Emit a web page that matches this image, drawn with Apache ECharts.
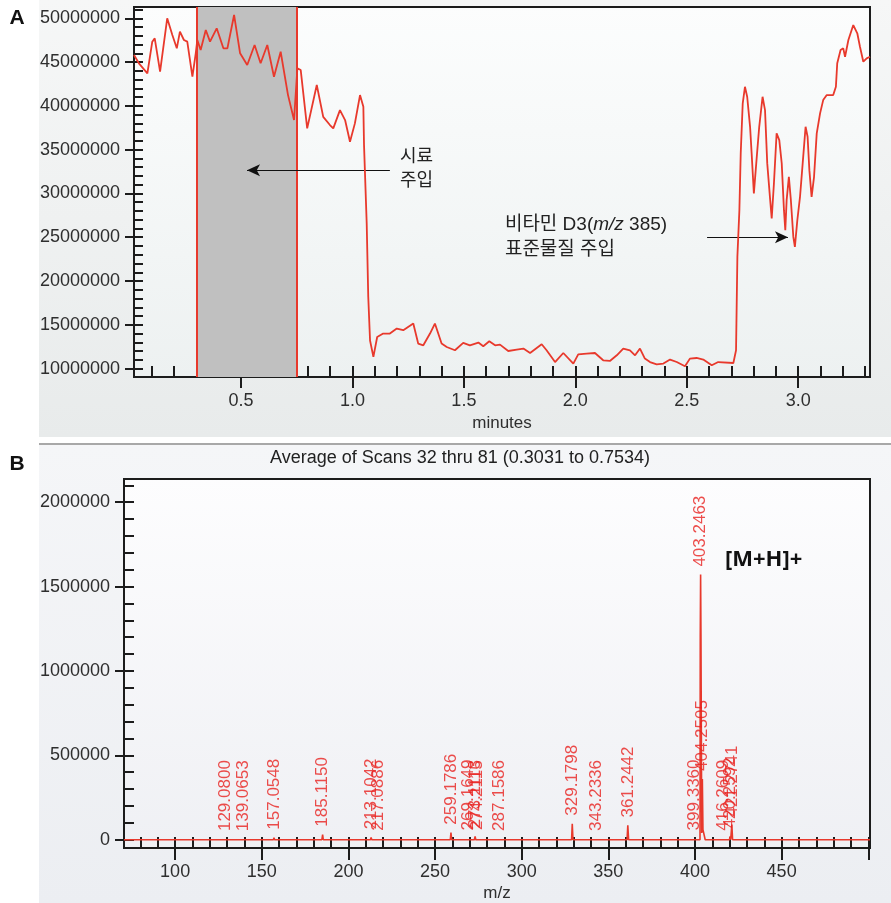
<!DOCTYPE html>
<html><head><meta charset="utf-8">
<script src="https://cdn.jsdelivr.net/npm/echarts@6/dist/echarts.min.js"></script>
<style>html,body{margin:0;padding:0;background:#fff}#c{width:891px;height:903px}</style>
</head><body><div id="c"></div>
<script>
// ===== Panel A: chromatogram (minutes vs intensity) =====
const ticTime = [0.020,0.042,0.080,0.102,0.113,0.137,0.169,0.192,0.212,0.226,
0.244,0.259,0.282,0.297,0.304,0.319,0.342,0.361,0.391,0.421,
0.439,0.469,0.496,0.528,0.561,0.588,0.618,0.648,0.678,0.711,
0.738,0.753,0.768,0.797,0.840,0.869,0.899,0.914,0.944,0.967,
0.989,1.011,1.034,1.049,1.052,1.064,1.071,1.079,1.094,1.111,
1.138,1.168,1.199,1.228,1.273,1.295,1.318,1.348,1.370,1.400,
1.423,1.460,1.497,1.527,1.565,1.587,1.614,1.640,1.662,1.699,
1.737,1.767,1.797,1.849,1.871,1.909,1.946,1.991,2.013,2.051,
2.088,2.125,2.155,2.186,2.215,2.245,2.268,2.290,2.312,2.335,
2.365,2.395,2.425,2.455,2.492,2.514,2.544,2.574,2.612,2.641,
2.709,2.721,2.727,2.736,2.742,2.751,2.761,2.771,2.784,2.791,
2.801,2.814,2.825,2.840,2.851,2.861,2.873,2.881,2.891,2.903,
2.915,2.926,2.936,2.942,2.948,2.958,2.967,2.978,2.985,2.996,
3.008,3.020,3.033,3.042,3.050,3.060,3.071,3.083,3.098,3.112,
3.128,3.157,3.169,3.175,3.190,3.202,3.210,3.225,3.247,3.265,
3.277,3.292,3.307,3.322];
// intensity in millions of counts
const ticIntensityM = [45.8,44.86,43.71,47.33,47.71,43.9,50.0,48.09,46.57,48.47,
47.52,47.33,43.33,46.0,47.52,46.38,48.66,47.33,48.86,46.57,
46.57,50.38,46.0,44.66,46.95,44.86,46.95,43.33,46.18,41.23,
38.38,44.29,44.09,37.43,42.38,38.75,37.81,37.43,39.52,38.38,
35.9,38.0,41.23,39.9,35.52,26.57,18.18,13.21,11.33,13.61,
14.0,14.0,14.57,14.38,15.14,12.86,12.66,14.0,15.14,12.86,
12.47,12.09,12.93,12.66,12.97,12.55,13.12,12.66,12.74,12.01,
12.17,12.29,11.78,12.78,12.09,10.75,11.78,10.57,11.63,11.71,
11.78,10.95,10.87,11.52,12.29,12.09,11.52,12.29,11.14,10.75,
10.49,10.57,11.03,10.75,10.26,11.14,11.21,11.03,10.38,10.75,
10.64,12.09,22.75,28.09,34.57,40.29,42.18,41.04,37.61,34.57,
30.0,34.18,37.61,41.04,39.52,33.43,29.61,27.14,31.14,36.86,
36.09,33.43,28.09,25.81,29.23,31.9,29.23,25.04,23.9,26.95,
29.61,33.43,37.61,36.47,32.66,29.61,31.9,36.86,39.14,40.66,
41.23,41.23,42.18,44.86,46.38,46.57,45.61,47.52,49.23,48.29,
46.75,45.04,45.43,45.61];
const scanWindow = [0.3031, 0.7534];
const aXMajor = [0.5,1.0,1.5,2.0,2.5,3.0];
const aXMinor = [0.1,0.2,0.3,0.4,0.5,0.6,0.7,0.8,0.9,1.0,1.1,1.2,1.3,1.4,1.5,1.6,1.7,1.8,1.9,2.0,2.1,2.2,2.3,2.4,2.5,2.6,2.7,2.8,2.9,3.0,3.1,3.2,3.3];
const aYMajor = [10000000,15000000,20000000,25000000,30000000,35000000,40000000,45000000,50000000];
const aYMinor = [10e6,11e6,12e6,13e6,14e6,15e6,16e6,17e6,18e6,19e6,20e6,21e6,22e6,23e6,24e6,25e6,26e6,27e6,28e6,29e6,30e6,31e6,32e6,33e6,34e6,35e6,36e6,37e6,38e6,39e6,40e6,41e6,42e6,43e6,44e6,45e6,46e6,47e6,48e6,49e6,50e6,51e6];

// ===== Panel B: mass spectrum =====
const specMz = [70.5,128.7,129.08,129.5,138.7,139.07,139.4,156.7,157.05,157.4,184.7,185.12,185.5,
212.7,213.10,213.5,216.7,217.09,217.5,258.8,259.18,259.6,268.8,269.16,269.5,272.7,273.11,273.5,
273.9,274.21,274.6,286.8,287.16,287.5,328.8,329.18,329.6,342.9,343.23,343.6,360.8,361.24,361.7,
399.0,399.34,399.7,402.9,403.05,403.25,403.45,403.9,404.25,404.6,405.3,405.9,
415.9,416.26,416.6,419.9,420.26,420.6,420.9,421.27,421.7,501];
const specIntensity = [0,0,4000,0,0,3000,0,0,12000,0,0,30000,0,
0,14000,0,0,6000,0,0,42000,0,0,8000,0,0,20000,0,
0,10000,0,0,5000,0,0,95000,0,0,5000,0,0,85000,0,
0,8000,0,0,1210000,1571000,1210000,40000,360000,60000,60000,0,
0,6000,0,0,20000,0,0,90000,0,0];
const peakLabel = ['129.0800','139.0653','157.0548','185.1150','213.1042','217.0886','259.1786','269.1649','273.1113','274.2115','287.1586','329.1798','343.2336','361.2442','399.3360','403.2463','404.2505','416.2609','420.2592','421.2741'];
const peakIntensity = [4000,3000,12000,30000,14000,6000,42000,8000,20000,10000,5000,95000,5000,85000,8000,1571000,360000,6000,20000,90000];
const bXMajor = [100,150,200,250,300,350,400,450];
const bXMajorTicks = [100,150,200,250,300,350,400,450,500];
const bXMinor = [80,90,100,110,120,130,140,150,160,170,180,190,200,210,220,230,240,250,260,270,280,290,300,310,320,330,340,350,360,370,380,390,400,410,420,430,440,450,460,470,480,490,500];
const bYMajor = [0,500000,1000000,1500000,2000000];
const bYMinor = [0,100000,200000,300000,400000,500000,600000,700000,800000,900000,1000000,1100000,1200000,1300000,1400000,1500000,1600000,1700000,1800000,1900000,2000000,2100000];

const FONT = '"Liberation Sans", Arial, sans-serif';
const KFONT = '"Liberation Sans", "Noto Sans CJK KR", "Noto Sans", sans-serif';
const INK = '#1c1c1c';
const RED = '#e8392c';
const LBL = '#2e2e2e';

function grad(c0, c1) { return {type:'linear',x:0,y:0,x2:0,y2:1,colorStops:[{offset:0,color:c0},{offset:1,color:c1}]}; }

function axisPair(gridIndex, min, max, major, labels, minor, outLen, inLen, fmt, name, nameGap, isX) {
  const pos = isX ? 'bottom' : 'left';
  const common = {gridIndex, type:'value', min, max, position:pos, offset:0, splitLine:{show:false}};
  const main = Object.assign({}, common, {
    axisLine:{show:true, onZero:false, lineStyle:{color:INK, width:2}},
    axisTick:{show:true, customValues:major, inside:false, length:outLen, lineStyle:{color:INK, width:2}},
    axisLabel:{show:true, customValues:labels, formatter:fmt, fontFamily:FONT, fontSize:18, color:LBL, margin:isX?15:14},
  });
  if (name) Object.assign(main, {name, nameLocation:'middle', nameGap, nameTextStyle:{fontFamily:FONT, fontSize:17, color:LBL}});
  const minorAx = Object.assign({}, common, {
    axisLine:{show:false, onZero:false},
    axisTick:{show:true, customValues:minor, inside:true, length:inLen, lineStyle:{color:INK, width:2}},
    axisLabel:{show:false}
  });
  return [main, minorAx];
}

const xA = axisPair(0, 0.02, 3.322, aXMajor, aXMajor, aXMinor, 11, 11, v => v.toFixed(1), 'minutes', 38, true);
const yA = axisPair(0, 9.04e6, 51.29e6, aYMajor, aYMajor, aYMinor, 9, 9, v => String(v), null, 0, false);
const xB = axisPair(1, 70.5, 501, bXMajorTicks, bXMajor, bXMinor, 12, 11, v => String(v), 'm/z', 37, true);
const yB = axisPair(1, -49000, 2137600, bYMajor, bYMajor, bYMinor, 9, 10, v => String(v), null, 0, false);

const chart = echarts.init(document.getElementById('c'), null, {renderer:'canvas'});
chart.setOption({
  animation:false,
  backgroundColor:'#ffffff',
  graphic:{elements:[
    {type:'rect', z:-10, shape:{x:39,y:0,width:852,height:437}, style:{fill:grad('#f6f7f7','#e8ebeb')}},
    {type:'rect', z:-10, shape:{x:39,y:445,width:852,height:458}, style:{fill:grad('#f5f6f8','#eceef2')}},
    {type:'rect', z:-9, shape:{x:39,y:443,width:852,height:2}, style:{fill:'#a8a8a8'}},
    {type:'text', z:10, x:17, y:18, style:{text:'A', fontFamily:FONT, fontSize:21, fontWeight:'bold', fill:'#111', align:'center', verticalAlign:'middle'}},
    {type:'text', z:10, x:17, y:464, style:{text:'B', fontFamily:FONT, fontSize:21, fontWeight:'bold', fill:'#111', align:'center', verticalAlign:'middle'}},
    {type:'text', z:10, x:460, y:458, style:{text:'Average of Scans 32 thru 81 (0.3031 to 0.7534)', fontFamily:FONT, fontSize:18, fill:'#222', align:'center', verticalAlign:'middle'}}
  ]},
  grid:[
    {left:134, top:7, width:736, height:370, show:true, borderColor:INK, borderWidth:2, backgroundColor:grad('#fcfdfd','#edf1f1')},
    {left:124, top:479, width:746, height:370, show:true, borderColor:INK, borderWidth:2, backgroundColor:grad('#fdfdfe','#eff0f4')}
  ],
  xAxis:[xA[0], xA[1], xB[0], xB[1]],
  yAxis:[yA[0], yA[1], yB[0], yB[1]],
  series:[
    {
      type:'line', xAxisIndex:0, yAxisIndex:0, showSymbol:false, symbol:'none',
      data: ticTime.map((t,i)=>[t, ticIntensityM[i]*1e6]),
      lineStyle:{color:RED, width:1.8}, z:5,
      markArea:{silent:true, itemStyle:{color:'#c0c0c0'}, data:[[{xAxis:scanWindow[0]},{xAxis:scanWindow[1]}]]},
      markLine:{silent:true, symbol:['none','none'], label:{show:false}, animation:false,
        data:[
          {xAxis:scanWindow[0], lineStyle:{color:RED, width:2, type:'solid'}},
          {xAxis:scanWindow[1], lineStyle:{color:RED, width:2, type:'solid'}},
          [{coord:[1.168, 32.66e6], symbol:'none', lineStyle:{color:'#111', width:1.2, type:'solid'}},
           {coord:[0.527, 32.66e6], symbol:'arrow', symbolSize:[9,13]}],
          [{coord:[2.591, 25.0e6], symbol:'none', lineStyle:{color:'#111', width:1.2, type:'solid'}},
           {coord:[2.954, 25.0e6], symbol:'arrow', symbolSize:[9,13]}]
        ]},
      markPoint:{silent:true, animation:false, data:[
        {coord:[1.213, 32.83e6], symbol:'circle', symbolSize:0,
         label:{show:true, position:[0,0], align:'left', verticalAlign:'middle', formatter:'시료\n주입', fontFamily:KFONT, fontSize:18, lineHeight:24, color:'#222'}},
        {coord:[1.684, 24.95e6], symbol:'circle', symbolSize:0,
         label:{show:true, position:[0,0], align:'left', verticalAlign:'middle',
           formatter:'{a|비타민 D3(}{i|m/z}{a| 385)}\n{a|표준물질 주입}',
           rich:{a:{fontFamily:KFONT, fontSize:19, lineHeight:25, color:'#222'}, i:{fontFamily:KFONT, fontSize:19, fontStyle:'italic', lineHeight:25, color:'#222'}}}}
      ]}
    },
    {
      type:'line', xAxisIndex:2, yAxisIndex:2, showSymbol:false, symbol:'none',
      data: specMz.map((m,i)=>[m, specIntensity[i]]),
      lineStyle:{color:RED, width:1.6}, z:5,
      markPoint:{silent:true, animation:false, data:[
        {coord:[417.3, 1.66e6], symbol:'circle', symbolSize:0,
         label:{show:true, position:[0,0], align:'left', verticalAlign:'middle', formatter:'[M+H]+', fontFamily:'"Open Sans", "Noto Sans", sans-serif', fontWeight:'bold', fontSize:22, color:'#111'}}
      ]}
    },
    {
      type:'scatter', xAxisIndex:2, yAxisIndex:2, symbolSize:0, z:6, silent:true,
      data: peakLabel.map((s,i)=>[parseFloat(s), peakIntensity[i], s]),
      label:{show:true, position:'top', distance:8, rotate:90, align:'left', verticalAlign:'middle',
        formatter:p=>p.data[2], fontFamily:FONT, fontSize:17, color:'#e8201e'}
    }
  ]
});
</script></body></html>
